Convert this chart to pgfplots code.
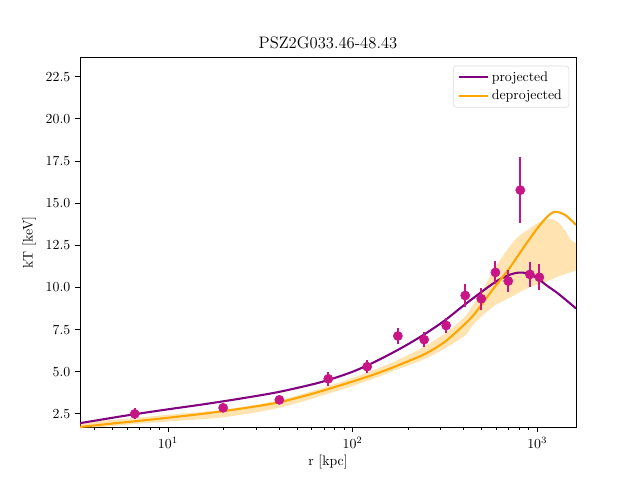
\documentclass[border=0pt]{standalone}
\usepackage{pgfplots}
\pgfplotsset{compat=1.18}
\usepgfplotslibrary{fillbetween}
\definecolor{mplpurple}{HTML}{800080}
\definecolor{mplorange}{HTML}{FFA500}
\definecolor{mvr}{HTML}{C71585}
\begin{document}
\begin{tikzpicture}
\begin{axis}[
  at={(0,0)}, anchor=south west,
  scale only axis, width=4.96in, height=3.696in,
  xmode=log, log basis x=10,
  xmin=3.34, xmax=1620, ymin=1.71, ymax=23.63,
  ytick={2.5,5,7.5,10,12.5,15,17.5,20,22.5},
  yticklabel style={/pgf/number format/.cd, fixed, fixed zerofill, precision=1},
  tick pos=left, tick align=outside,
  major tick length=3.5pt, minor tick length=2pt,
  every tick/.style={black, line width=0.6pt},
  title={PSZ2G033.46-48.43}, title style={font=\large, yshift=-3pt},
  xlabel={r [kpc]}, ylabel={kT [keV]},
  xlabel style={yshift=2pt},
  legend style={at={(0.986,0.978)}, anchor=north east, draw=black!15, rounded corners=2pt, font=\normalsize, row sep=1pt, inner xsep=3pt},
  legend cell align=left,
  legend image code/.code={\draw[#1] (0cm,0cm) -- (0.75cm,0cm);},
]
\addplot[name path=up, draw=none, smooth, forget plot] coordinates {
(3.34,2.0) (6.61,2.25) (10,2.45) (20,2.75) (39.8,3.3) (74,4.15) (120,4.95) (176,5.7) (245,6.5) (324,7.35) (407,8.3) (450,9.0) (509,9.9) (577,11.0) (653,11.9) (741,12.7) (805,13.1) (912,13.5) (1000,13.8) (1100,14.0) (1194,14.06) (1300,13.85) (1403,13.42) (1520,12.82) (1620,12.62)};
\addplot[name path=lo, draw=none, smooth, forget plot] coordinates {
(3.34,1.6) (6.61,1.9) (10,2.05) (20,2.3) (39.8,2.85) (74,3.7) (120,4.45) (176,5.15) (245,5.75) (324,6.45) (407,7.15) (430,7.5) (450,7.8) (501,8.3) (553,8.7) (603,9.0) (682,9.3) (741,9.5) (813,9.75) (933,10.05) (1114,10.33) (1300,10.65) (1620,11.0)};
\addplot[mplorange, fill opacity=0.3, draw=none, forget plot] fill between[of=up and lo];
\addplot[mplpurple, line width=1.5pt, smooth] coordinates {
(3.34,1.95) (5.01,2.27) (6.61,2.48) (10,2.77) (15.85,3.08) (25.12,3.42) (39.81,3.80) (63.1,4.30) (79.4,4.62) (100,5.00) (125.9,5.48) (158.5,6.03) (199.5,6.63) (251.2,7.30) (316.2,8.05) (398.1,8.92) (501.2,9.75) (562.3,10.15) (631,10.5) (707.9,10.75) (794.3,10.88) (891.3,10.82) (1000,10.55) (1122,10.12) (1259,9.74) (1413,9.3) (1622,8.75)};
\addlegendentry{projected}
\addplot[mplorange, line width=1.5pt, smooth] coordinates {
(3.34,1.72) (5.01,1.93) (6.61,2.06) (10,2.27) (15.85,2.52) (25.12,2.82) (39.81,3.18) (63.1,3.75) (79.4,4.08) (100,4.42) (125.9,4.78) (158.5,5.18) (199.5,5.62) (251.2,6.10) (316.2,6.78) (398.1,7.75) (446.7,8.3) (501.2,9.0) (562.3,9.75) (631,10.45) (707.9,11.15) (794.3,11.95) (891.3,12.75) (1000,13.5) (1122,14.15) (1240,14.48) (1413,14.3) (1622,13.7)};
\addlegendentry{deprojected}
\addplot[mvr, only marks, mark=*, mark size=3.3pt, forget plot,
  error bars/.cd, y dir=both, y explicit, error mark=none,
  error bar style={line width=1.5pt, mvr}] coordinates {
(6.61,2.5) +- (0,0.33)
(19.9,2.86) +- (0,0.2)
(40.1,3.33) +- (0,0.25)
(73.8,4.58) +- (0,0.4)
(119.9,5.30) +- (0,0.4)
(175.8,7.12) +- (0,0.45)
(244,6.90) +- (0,0.45)
(321,7.74) +- (0,0.46)
(407,9.52) +- (0,0.66)
(497,9.33) +- (0,0.66)
(593,10.89) +- (0,0.66)
(696,10.38) +- (0,0.67)
(809,15.77) +- (0,1.95)
(912,10.77) +- (0,0.76)
(1026,10.6) +- (0,0.77)
};
\end{axis}
\path (-0.8in,-0.528in) rectangle (5.6in,4.272in);
\end{tikzpicture}
\end{document}
